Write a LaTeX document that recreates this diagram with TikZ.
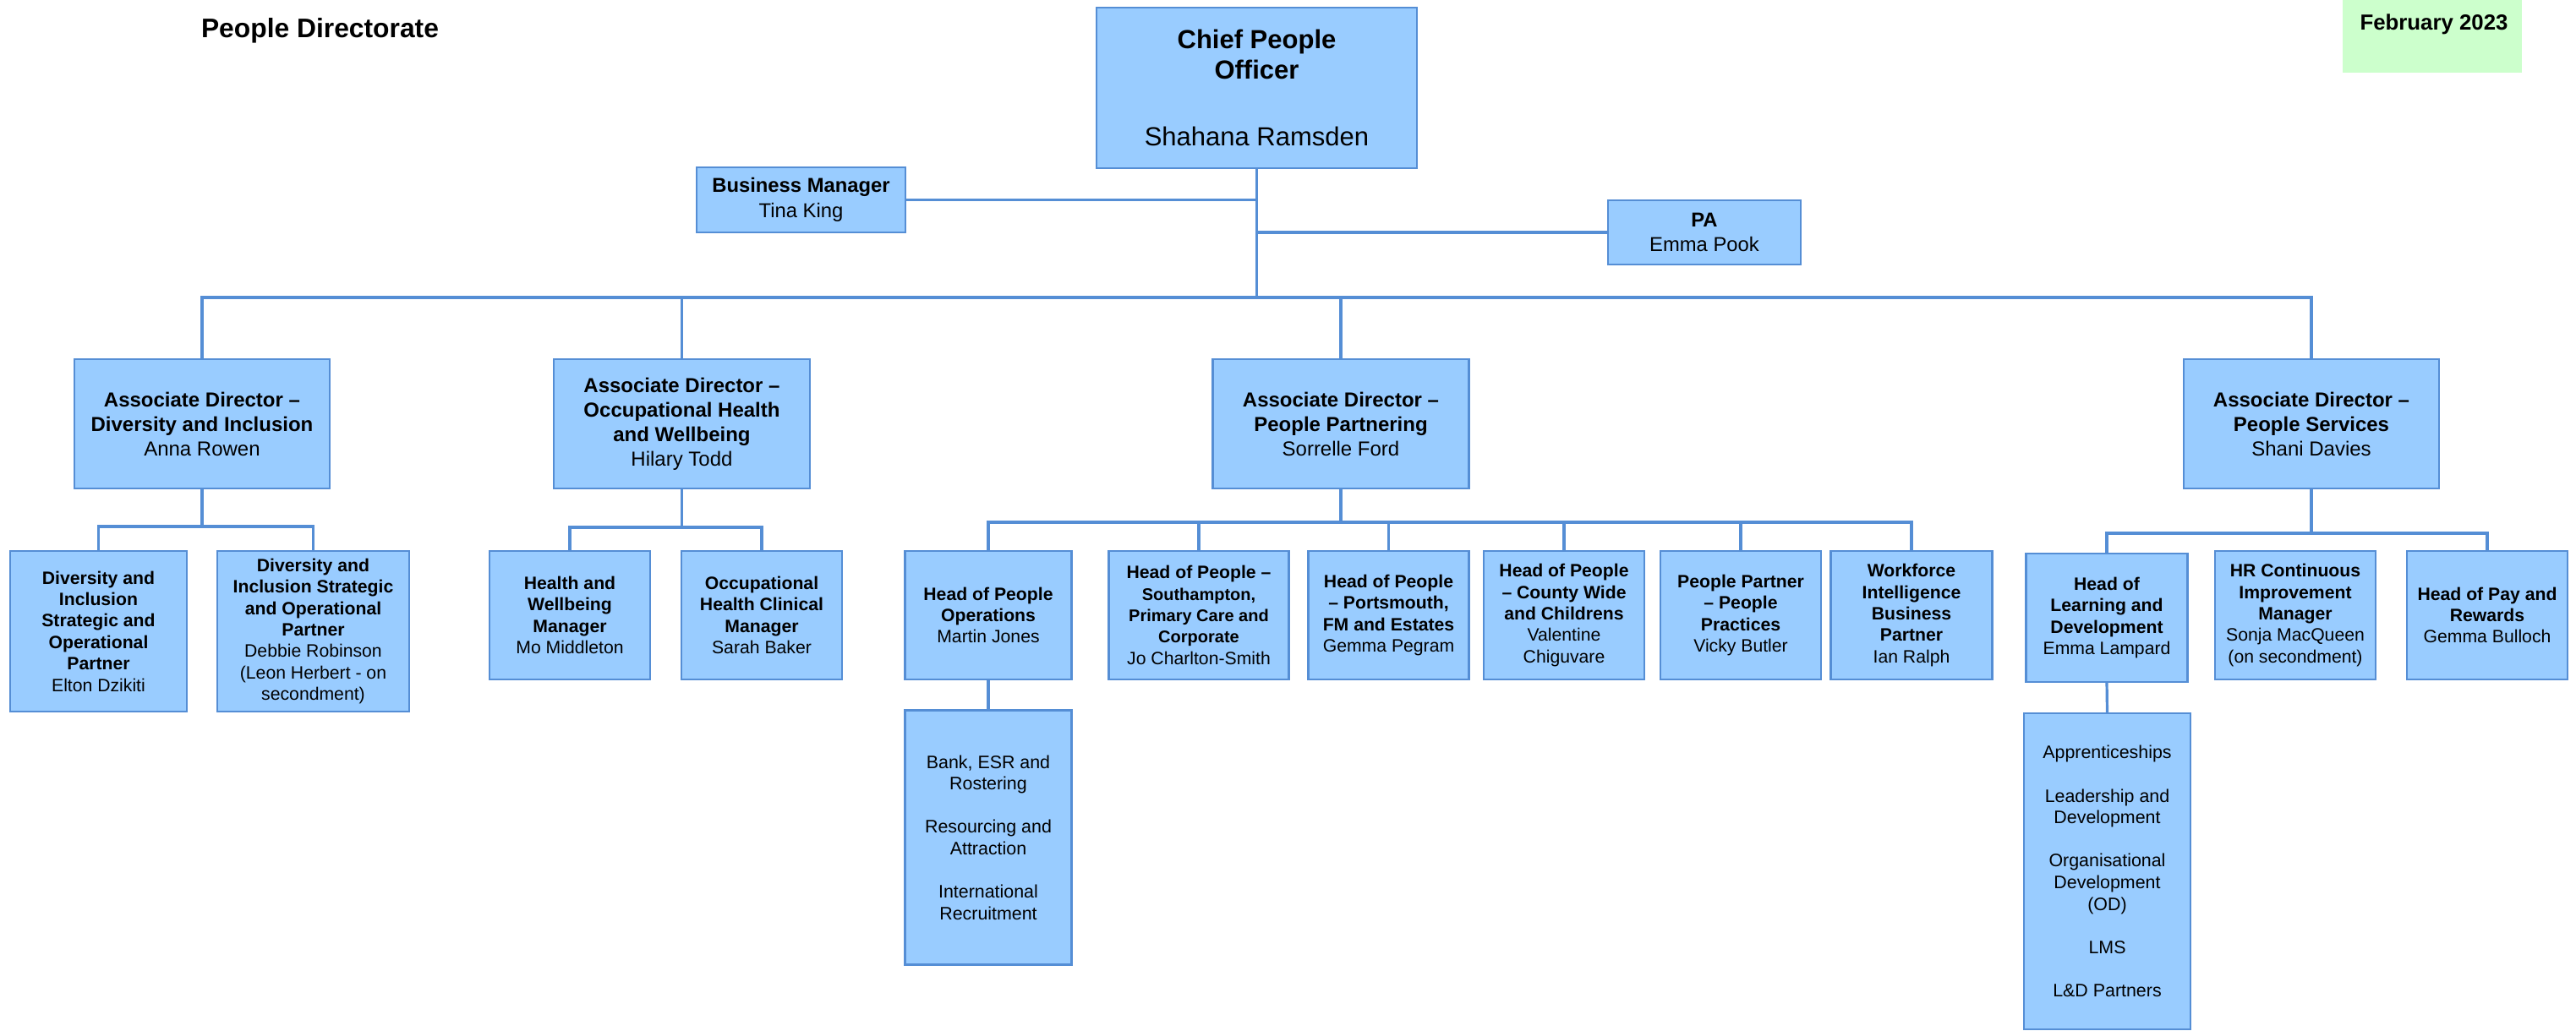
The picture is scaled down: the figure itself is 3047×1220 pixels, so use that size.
\documentclass[tikz,border=0pt]{standalone}
\usepackage{fontspec}
\setmainfont{Liberation Sans}
\definecolor{boxblue}{RGB}{153,204,255}
\definecolor{lineblue}{RGB}{85,142,213}
\definecolor{dategreen}{RGB}{204,255,204}
\newcommand\hb[1]{\textbf{#1}}
\newcommand\hbs[1]{{\fontsize{10}{12.6}\selectfont\bfseries #1}}
\begin{document}
\begin{tikzpicture}[x=0.5pt,y=-0.5pt,
  every node/.style={inner sep=0pt, outer sep=0pt},
  box/.style={draw=lineblue, fill=boxblue, line width=1.4pt, align=center},
  sz/.style 2 args={minimum width=#1*0.5pt, minimum height=#2*0.5pt},
  conn/.style={draw=lineblue, line width=1.6pt},
  small/.style={font=\fontsize{10.6}{12.7}\selectfont},
  mid/.style={font=\fontsize{12}{14.5}\selectfont},
  bmfont/.style={font=\fontsize{11.9}{14.8}\selectfont},
  plain/.style={font=\fontsize{10.7}{12.8}\selectfont}]
\useasboundingbox (0,0) rectangle (3047,1220);
\fill[white] (0,0) rectangle (3047,1220);

% title and date
\node[font=\fontsize{15.9}{19}\selectfont\bfseries, anchor=base west] (title) at (238,45) {People Directorate};
\node[fill=dategreen, sz={212}{86}] (datebox) at (2877,43) {};
\node[font=\fontsize{12.9}{15}\selectfont\bfseries, anchor=base] (date) at (2879,36) {February 2023};

% top
\node[box, font=\fontsize{15.5}{18}\selectfont, sz={379}{190}] (cpo) at (1486.5,104)
  {\hb{Chief People}\\\hb{Officer}\\[21.5pt]Shahana Ramsden};
\node[box, bmfont, sz={247}{77}] (bm) at (947.5,236.5) {\hb{Business Manager}\\Tina King};
\node[box, bmfont, sz={228}{76}] (pa) at (2016,275) {\hb{PA}\\Emma Pook};

% associate directors
\node[box, mid, sz={302}{153}] (ad1) at (239,501.5) {\hb{Associate Director –}\\\hb{Diversity and Inclusion}\\Anna Rowen};
\node[box, mid, sz={303}{153}] (ad2) at (806.5,501.5) {\hb{Associate Director –}\\\hb{Occupational Health}\\\hb{and Wellbeing}\\Hilary Todd};
\node[box, mid, sz={303}{153}] (ad3) at (1586,501.5) {\hb{Associate Director –}\\\hb{People Partnering}\\Sorrelle Ford};
\node[box, mid, sz={302}{153}] (ad4) at (2734,501.5) {\hb{Associate Director –}\\\hb{People Services}\\Shani Davies};

% diversity
\node[box, small, sz={209}{190}] (d1) at (116.5,747) {\hb{Diversity and}\\\hb{Inclusion}\\\hb{Strategic and}\\\hb{Operational}\\\hb{Partner}\\Elton Dzikiti};
\node[box, small, sz={227}{190}] (d2) at (370.5,747) {\hb{Diversity and}\\\hb{Inclusion Strategic}\\\hb{and Operational}\\\hb{Partner}\\Debbie Robinson\\(Leon Herbert - on\\secondment)};

% occupational health
\node[box, small, sz={190}{152}] (hw) at (674,728) {\hb{Health and}\\\hb{Wellbeing}\\\hb{Manager}\\Mo Middleton};
\node[box, small, sz={190}{152}] (oh) at (901,728) {\hb{Occupational}\\\hb{Health Clinical}\\\hb{Manager}\\Sarah Baker};

% people partnering
\node[box, small, sz={196.5}{152}] (ops) at (1169,728) {\hb{Head of People}\\\hb{Operations}\\Martin Jones};
\node[box, small, sz={212.5}{152}] (sot) at (1418,728) {\hb{Head of People –}\\\hbs{Southampton,}\\\hbs{Primary Care and}\\\hbs{Corporate}\\Jo Charlton-Smith};
\node[box, small, sz={190}{152}] (por) at (1642.5,728) {\hb{Head of People}\\\hb{– Portsmouth,}\\\hb{FM and Estates}\\Gemma Pegram};
\node[box, small, sz={190}{152}] (cty) at (1850,728) {\hb{Head of People}\\\hb{– County Wide}\\\hb{and Childrens}\\Valentine\\Chiguvare};
\node[box, small, sz={190}{152}] (ppp) at (2059,728) {\hb{People Partner}\\\hb{– People}\\\hb{Practices}\\Vicky Butler};
\node[box, small, sz={190.5}{152}] (wib) at (2261,728) {\hb{Workforce}\\\hb{Intelligence}\\\hb{Business}\\\hb{Partner}\\Ian Ralph};
\node[box, plain, sz={196.5}{300.5}] (opsub) at (1169,991) {Bank, ESR and\\Rostering\\[12.8pt]Resourcing and\\Attraction\\[12.8pt]International\\Recruitment};

% people services
\node[box, small, sz={190.5}{152}] (hold) at (2492,731) {\hb{Head of}\\\hb{Learning and}\\\hb{Development}\\Emma Lampard};
\node[box, small, sz={190}{152}] (hrci) at (2715,728) {\hb{HR Continuous}\\\hb{Improvement}\\\hb{Manager}\\Sonja MacQueen\\(on secondment)};
\node[box, small, sz={190}{152}] (hopr) at (2942,728) {\hb{Head of Pay and}\\\hb{Rewards}\\Gemma Bulloch};
\node[box, plain, sz={197}{374}] (ldsub) at (2492.5,1031) {Apprenticeships\\[12.8pt]Leadership and\\Development\\[12.8pt]Organisational\\Development\\(OD)\\[12.8pt]LMS\\[12.8pt]L\&D Partners};

% bar levels
\coordinate (bar0) at (0,352);
\coordinate (bar1) at (0,623);
\coordinate (bar2) at (0,624);
\coordinate (bar3) at (0,618);
\coordinate (bar4) at (0,631);

% connectors
\draw[conn] (cpo.south) -- (cpo.south |- bar0);
\draw[conn] (bm.east) -- (bm.east -| cpo.south);
\draw[conn] (pa.west) -- (pa.west -| cpo.south);
\draw[conn] (ad1.north) |- (ad4.north |- bar0) -- (ad4.north);
\draw[conn] (ad2.north) -- (ad2.north |- bar0);
\draw[conn] (ad3.north) -- (ad3.north |- bar0);

\draw[conn] (ad1.south) -- (ad1.south |- bar1);
\draw[conn] (d1.north) |- (d2.north |- bar1) -- (d2.north);

\draw[conn] (ad2.south) -- (ad2.south |- bar2);
\draw[conn] (hw.north) |- (oh.north |- bar2) -- (oh.north);

\draw[conn] (ad3.south) -- (ad3.south |- bar3);
\draw[conn] (ops.north) |- (wib.north |- bar3) -- (wib.north);
\draw[conn] (sot.north) -- (sot.north |- bar3);
\draw[conn] (por.north) -- (por.north |- bar3);
\draw[conn] (cty.north) -- (cty.north |- bar3);
\draw[conn] (ppp.north) -- (ppp.north |- bar3);
\draw[conn] (ops.south) -- (opsub.north);

\draw[conn] (ad4.south) -- (ad4.south |- bar4);
\draw[conn] (hold.north) |- (hopr.north |- bar4) -- (hopr.north);
\draw[conn] (hold.south) -- (ldsub.north);
\end{tikzpicture}
\end{document}
